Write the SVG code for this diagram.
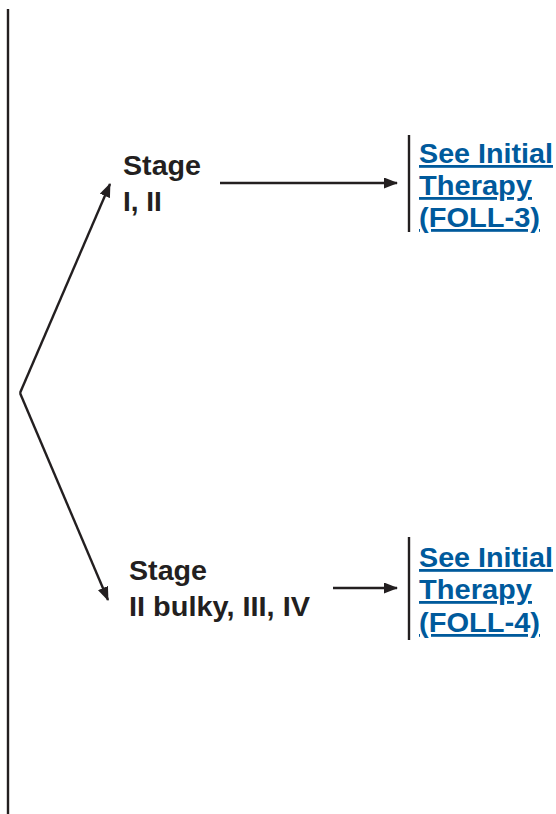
<svg xmlns="http://www.w3.org/2000/svg" width="556" height="814" viewBox="0 0 556 814">
<style>
.lbl{font-family:"Liberation Sans",Arial,sans-serif;font-weight:bold;font-size:28px;fill:#231f20}
.lnk{font-family:"Liberation Sans",Arial,sans-serif;font-weight:bold;font-size:28px;fill:#005a9c;text-decoration:underline}
.ln{stroke:#231f20;stroke-width:2.4;fill:none}
</style>
<defs>
<marker id="ah" markerWidth="14" markerHeight="11" refX="13" refY="5.5" orient="auto" markerUnits="userSpaceOnUse">
<path d="M0,0 L14,5.5 L0,11 Z" fill="#231f20"/>
</marker>
</defs>
<rect width="556" height="814" fill="#fff"/>
<g id="connectors">
<line class="ln" x1="8" y1="9" x2="8" y2="814"/>
<line class="ln" x1="20" y1="393" x2="110" y2="184" marker-end="url(#ah)"/>
<line class="ln" x1="20" y1="393" x2="108" y2="600" marker-end="url(#ah)"/>
<line class="ln" x1="220" y1="183" x2="397" y2="183" marker-end="url(#ah)"/>
<line class="ln" x1="333" y1="588" x2="397" y2="588" marker-end="url(#ah)"/>
<line class="ln" x1="409" y1="135" x2="409" y2="232"/>
<line class="ln" x1="409" y1="537" x2="409" y2="640"/>
</g>
<g id="stage12">
<text class="lbl" x="123" y="175" textLength="78" lengthAdjust="spacingAndGlyphs">Stage</text>
<text class="lbl" x="123" y="211">I, II</text>
</g>
<g id="stage34">
<text class="lbl" x="129" y="580" textLength="78" lengthAdjust="spacingAndGlyphs">Stage</text>
<text class="lbl" x="129" y="616" textLength="181" lengthAdjust="spacingAndGlyphs">II bulky, III, IV</text>
</g>
<g id="foll3">
<text class="lnk" x="419" y="163" textLength="134" lengthAdjust="spacingAndGlyphs">See Initial</text>
<text class="lnk" x="419" y="195" textLength="113" lengthAdjust="spacingAndGlyphs">Therapy</text>
<text class="lnk" x="419" y="227" textLength="121" lengthAdjust="spacingAndGlyphs">(FOLL-3)</text>
</g>
<g id="foll4">
<text class="lnk" x="419" y="567" textLength="134" lengthAdjust="spacingAndGlyphs">See Initial</text>
<text class="lnk" x="419" y="599" textLength="113" lengthAdjust="spacingAndGlyphs">Therapy</text>
<text class="lnk" x="419" y="632" textLength="121" lengthAdjust="spacingAndGlyphs">(FOLL-4)</text>
</g>
</svg>
